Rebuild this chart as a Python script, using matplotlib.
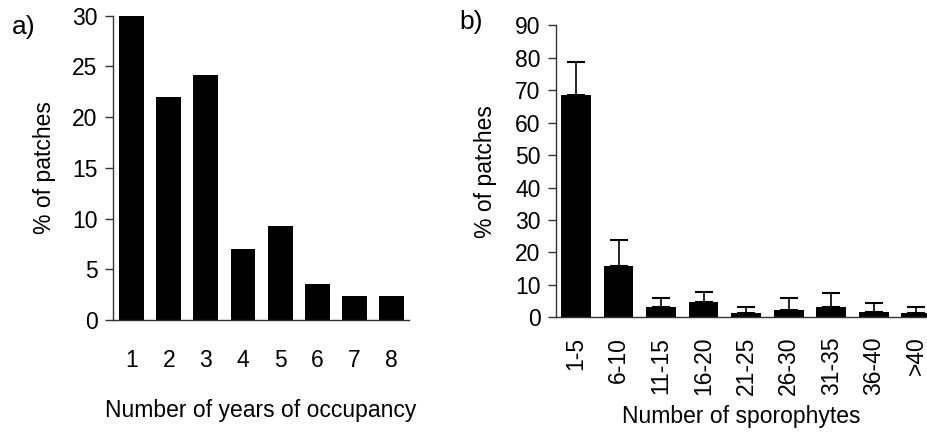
import matplotlib
matplotlib.use("Agg")
import matplotlib.pyplot as plt
import numpy as np

plt.rcParams["font.family"] = ["Liberation Sans", "DejaVu Sans"]
plt.rcParams["font.size"] = 16.5

# panel a: years of occupancy
years = ["1", "2", "3", "4", "5", "6", "7", "8"]
pct_years = [30.0, 22.0, 24.2, 7.0, 9.3, 3.5, 2.4, 2.4]

# panel b: sporophyte classes
spor_classes = ["1-5", "6-10", "11-15", "16-20", "21-25", "26-30", "31-35", "36-40", ">40"]
pct_spor = [68.6, 15.9, 3.2, 4.6, 1.2, 2.2, 3.2, 1.6, 1.2]
spor_err = [10.2, 7.8, 2.8, 3.3, 1.9, 3.8, 4.2, 2.8, 1.9]

AXIS_COL = "#333333"


def style_axes(ax):
    for side in ("top", "right"):
        ax.spines[side].set_visible(False)
    for side in ("left", "bottom"):
        ax.spines[side].set_color(AXIS_COL)
        ax.spines[side].set_linewidth(1.0)
    ax.tick_params(axis="y", direction="out", length=6, width=1.0,
                   color=AXIS_COL, pad=5)


fig = plt.figure(figsize=(9.27, 4.32), dpi=100)

# a)
ax1 = fig.add_axes([0.1219, 0.2593, 0.3193, 0.7044])
x1 = np.arange(1, len(years) + 1)
ax1.bar(x1, pct_years, width=0.67, color="black")
ax1.set_xlim(0.5, 8.47)
ax1.set_ylim(0, 30)
ax1.set_yticks([0, 5, 10, 15, 20, 25, 30])
ax1.set_xticks(x1)
ax1.set_xticklabels(years)
style_axes(ax1)
ax1.tick_params(axis="x", length=0, pad=21)
ax1.set_ylabel("% of patches", labelpad=12)
ax1.set_xlabel("Number of years of occupancy", labelpad=19)
fig.text(0.013, 0.937, "a)", fontsize=19, va="center")

# b)
ax2 = fig.add_axes([0.5995, 0.2655, 0.4005, 0.6759])
x2 = np.arange(len(spor_classes))
ax2.bar(x2, pct_spor, width=0.70, color="black")
ax2.errorbar(x2, pct_spor, yerr=[np.zeros(len(spor_err)), spor_err],
             fmt="none", ecolor="black", elinewidth=1.2, capsize=6.5,
             capthick=1.5)
ax2.set_xlim(-0.475, 8.25)
ax2.set_ylim(0, 90)
ax2.set_yticks(np.arange(0, 91, 10))
ax2.set_xticks(x2)
ax2.set_xticklabels(spor_classes, rotation=90)
style_axes(ax2)
ax2.tick_params(axis="x", length=0, pad=14)
ax2.set_ylabel("% of patches", labelpad=13)
ax2.set_xlabel("Number of sporophytes", labelpad=7)
fig.text(0.496, 0.95, "b)", fontsize=19, va="center")

fig.savefig("out.png", dpi=100)
